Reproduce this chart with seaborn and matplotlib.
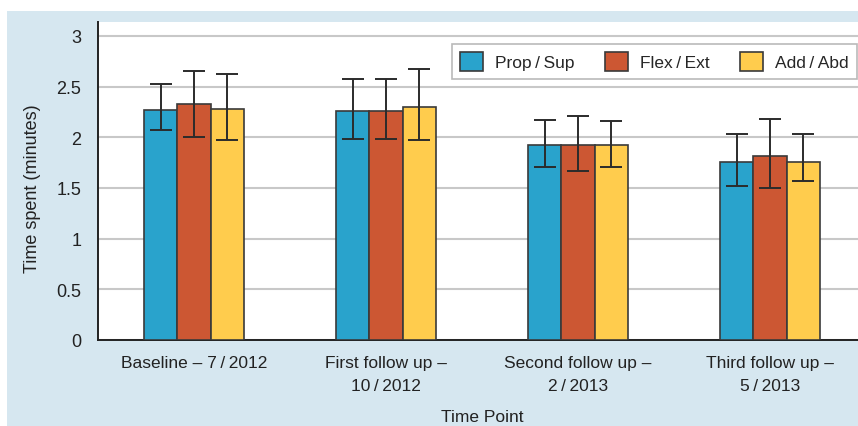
import matplotlib
matplotlib.use("Agg")
import matplotlib.pyplot as plt
from matplotlib.patches import Rectangle
import seaborn as sns
import pandas as pd
import numpy as np

time_points = ["Baseline \u2013 7\u2009/\u20092012",
               "First follow up \u2013\n10\u2009/\u20092012",
               "Second follow up \u2013\n2\u2009/\u20092013",
               "Third follow up \u2013\n5\u2009/\u20092013"]
movements = ["Prop\u2009/\u2009Sup", "Flex\u2009/\u2009Ext", "Add\u2009/\u2009Abd"]

prop_sup = [2.27, 2.26, 1.92, 1.76]
flex_ext = [2.33, 2.26, 1.92, 1.82]
add_abd = [2.28, 2.30, 1.92, 1.76]

prop_sup_lo = [2.07, 1.98, 1.71, 1.52]
prop_sup_hi = [2.53, 2.58, 2.17, 2.03]
flex_ext_lo = [2.00, 1.98, 1.67, 1.50]
flex_ext_hi = [2.65, 2.58, 2.21, 2.18]
add_abd_lo = [1.97, 1.97, 1.71, 1.57]
add_abd_hi = [2.62, 2.67, 2.16, 2.03]

colors = ["#29a3cc", "#cc5733", "#ffcc4d"]

rows = []
for m, vals, lo, hi in zip(movements,
                           [prop_sup, flex_ext, add_abd],
                           [prop_sup_lo, flex_ext_lo, add_abd_lo],
                           [prop_sup_hi, flex_ext_hi, add_abd_hi]):
    for t, v, l, h in zip(time_points, vals, lo, hi):
        rows.append({"Time Point": t, "Movement": m, "Time": v, "lo": l, "hi": h})
df = pd.DataFrame(rows)

sns.set_theme(style="white")
font = ["Liberation Sans Narrow", "Liberation Sans", "DejaVu Sans"]
plt.rcParams["font.family"] = font
FS = 12.5
TXT = "#222222"

W, H = 858, 427
fig = plt.figure(figsize=(W / 100, H / 100), dpi=100, facecolor="white")
fig.patches.append(Rectangle((7 / W, 0), 1 - 7 / W, 1 - 12 / H,
                             transform=fig.transFigure, facecolor="#d6e7f0",
                             edgecolor="none", zorder=-10))
ax = fig.add_axes([98 / W, 1 - 341 / H, 768 / W, 318 / H])
ax.set_facecolor("white")
ax.set_zorder(1)

sns.barplot(data=df, x="Time Point", y="Time", hue="Movement",
            order=time_points, hue_order=movements, palette=colors,
            width=0.516, gap=0, errorbar=None, edgecolor="#3a3a3a",
            linewidth=1.2, saturation=1, ax=ax, zorder=3)

# error bars positioned from the seaborn bar patches
bars = [p for p in ax.patches if p.get_height() > 0][:len(df)]
for i, m in enumerate(movements):
    sub = df[df["Movement"] == m].reset_index(drop=True)
    for j in range(len(time_points)):
        p = bars[i * len(time_points) + j]
        xc = p.get_x() + p.get_width() / 2
        v = sub.loc[j, "Time"]
        ax.errorbar(xc, v, yerr=[[v - sub.loc[j, "lo"]], [sub.loc[j, "hi"] - v]],
                    fmt="none", ecolor="#2b2b2b", elinewidth=1.4,
                    capsize=7.9, capthick=1.4, zorder=4)

ax.set_xlim(-0.5, 3.5)
ax.set_ylim(0, 3.138)
ax.set_yticks([0, 0.5, 1, 1.5, 2, 2.5, 3])
ax.set_yticklabels(["0", "0.5", "1", "1.5", "2", "2.5", "3"])
ax.yaxis.grid(True, color="#c8c8c8", linewidth=1.5, zorder=0)
ax.set_axisbelow(True)

ax.set_xticks([-0.5, 0.5, 1.5, 2.5])
ax.set_xticklabels([])
ax.set_xticks(range(len(time_points)), minor=True)
ax.set_xticklabels(time_points, minor=True, fontsize=FS, color=TXT,
                   linespacing=1.62)
ax.tick_params(axis="x", which="minor", length=0, pad=11)
ax.tick_params(axis="x", which="major", length=6, width=1.2, color="#666666",
               direction="out")
ax.tick_params(axis="y", length=7, width=1.2, color="#666666", direction="out",
               labelsize=FS + 0.5, labelcolor=TXT, pad=5)

for s in ["top", "right"]:
    ax.spines[s].set_visible(False)
for s in ["left", "bottom"]:
    ax.spines[s].set_color("#222222")
    ax.spines[s].set_linewidth(1.4)

ax.set_xlabel("Time Point", fontsize=FS, color=TXT)
ax.set_ylabel("Time spent (minutes)", fontsize=FS + 0.5, color=TXT)
ax.xaxis.set_label_coords(0.5, -0.218)
ax.yaxis.set_label_coords(-0.074, 0.478)

handles, labels = ax.get_legend_handles_labels()
leg = ax.legend(handles, labels, loc="upper left",
                bbox_to_anchor=(452 / W, 1 - 45 / H), bbox_transform=fig.transFigure,
                ncol=3, frameon=True, fancybox=False, fontsize=FS,
                handlelength=1.33, handleheight=1.33, handletextpad=0.7,
                columnspacing=1.75, borderpad=0.45, borderaxespad=0)
leg.get_frame().set_edgecolor("#a8a8a8")
leg.get_frame().set_linewidth(1.2)
leg.get_frame().set_facecolor("white")
for h in leg.legend_handles:
    h.set_edgecolor("#3a3a3a")
leg.set_zorder(10)

fig.savefig("out.png", dpi=100, facecolor="white")
